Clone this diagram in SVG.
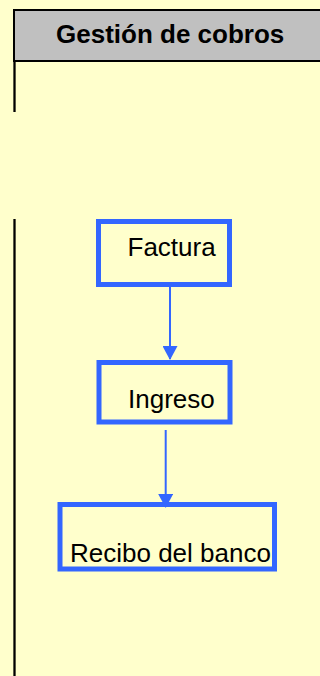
<svg xmlns="http://www.w3.org/2000/svg" width="320" height="676" viewBox="0 0 320 676">
<defs>
<style>
.box{fill:none;stroke:#3366FF;stroke-width:5}
.lbl{font-family:"Liberation Sans",Arial,sans-serif;font-size:26px;fill:#000}
.conn{stroke:#3366FF;stroke-width:2;fill:none;marker-end:url(#ah)}
.lane{stroke:#000;stroke-width:2.3}
</style>
<marker id="ah" viewBox="0 0 14 15" refX="13" refY="7.5" markerWidth="14" markerHeight="15" markerUnits="userSpaceOnUse" orient="auto">
<path d="M0,0 L14,7.5 L0,15 Z" fill="#3366FF"/>
</marker>
</defs>
<rect x="0" y="0" width="320" height="676" fill="#FFFFCC"/>
<g id="lane">
<rect x="14" y="10" width="310" height="51" fill="#C0C0C0" stroke="#000" stroke-width="2"/>
<text x="56" y="43" class="lbl" font-weight="bold" font-size="26.4">Gestión de cobros</text>
<line class="lane" x1="14.5" y1="61" x2="14.5" y2="112"/>
<line class="lane" x1="14.5" y1="219" x2="14.5" y2="676"/>
</g>
<g id="connectors">
<line class="conn" x1="170" y1="283" x2="170" y2="359"/>
<line class="conn" x1="165.7" y1="430" x2="165.7" y2="507"/>
</g>
<g id="factura">
<rect class="box" x="98.5" y="221.5" width="131" height="63"/>
<text x="127.5" y="256" class="lbl">Factura</text>
</g>
<g id="ingreso">
<rect class="box" x="99" y="362.5" width="131" height="59.5"/>
<text x="128" y="408" class="lbl">Ingreso</text>
</g>
<g id="recibo">
<rect class="box" x="60" y="504.5" width="214.5" height="64.5"/>
<text x="70" y="561.5" class="lbl">Recibo del banco</text>
</g>
</svg>
